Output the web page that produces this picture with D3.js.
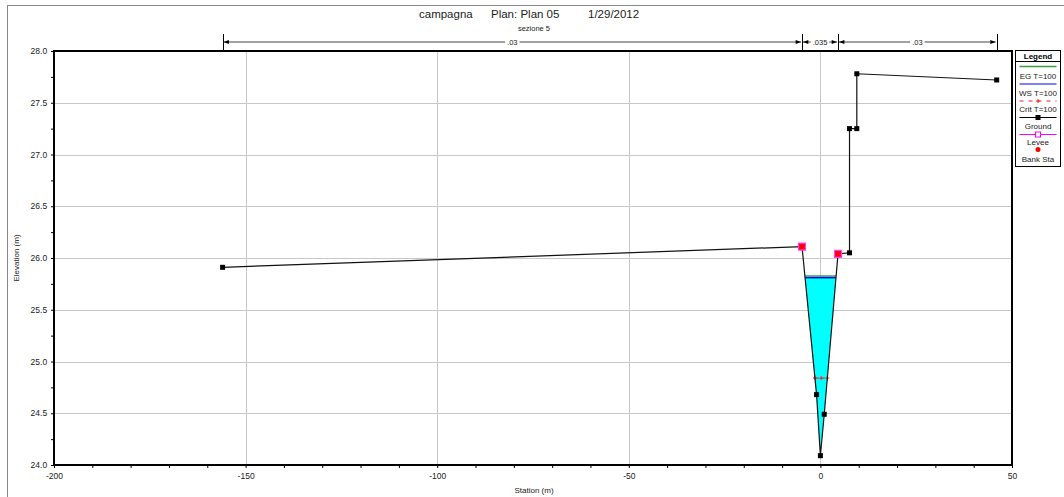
<!DOCTYPE html>
<html>
<head>
<meta charset="utf-8">
<script src="https://cdn.jsdelivr.net/npm/d3@7"></script>
<style>
  html, body { margin: 0; padding: 0; background: #fff; }
  svg { display: block; font-family: "Liberation Sans", Arial, sans-serif; }
</style>
</head>
<body>
<svg id="chart" width="1064" height="497"></svg>
<script>
// Cross section "sezione 5" — ground profile, water surfaces, bank stations
const groundStation = [-156, -4.8, -1.0, 0.0, 1.0, 4.6, 7.6, 7.6, 9.5, 9.5, 46];
const groundElev    = [25.91, 26.11, 24.68, 24.09, 24.49, 26.04, 26.05, 27.25, 27.25, 27.78, 27.72];
const bankStation   = [-4.8, 4.6];
const wsElev   = 25.81;   // WS T=100
const egElev   = 25.825;  // EG T=100
const critElev = 24.84;   // Crit T=100
const nBreaks  = [-156, -4.8, 4.6, 46];
const nValues  = [".03", ".035", ".03"];
const xTicksMajor = [-200, -150, -100, -50, 0, 50];
const yTicksMajor = [24.0, 24.5, 25.0, 25.5, 26.0, 26.5, 27.0, 27.5, 28.0];
const titleParts  = ["campagna", "Plan: Plan 05", "1/29/2012"];
const legendItems = ["EG T=100", "WS T=100", "Crit T=100", "Ground", "Levee", "Bank Sta"];

const svg = d3.select("#chart");
const x = d3.scaleLinear().domain([-200, 50]).range([54, 1012]);
const y = d3.scaleLinear().domain([24, 28]).range([465, 51]);
const ground = groundStation.map((s, i) => ({s, e: groundElev[i]}));

// outer frame
svg.append("rect").attr("x", 7.5).attr("y", 5.5).attr("width", 1070).attr("height", 500)
  .attr("fill", "none").attr("stroke", "#888").attr("stroke-width", 1);

// titles
const titleX = [419, 491, 588];
titleParts.forEach((t, i) => {
  svg.append("text").attr("x", titleX[i]).attr("y", 18)
    .attr("font-size", 11.5).attr("fill", "#222").text(t);
});
svg.append("text").attr("x", 534).attr("y", 31).attr("text-anchor", "middle")
  .attr("font-size", 7.5).attr("fill", "#222").text("sezione 5");

// grid
const grid = svg.append("g").attr("stroke", "#c8c8c8").attr("stroke-width", 1);
xTicksMajor.filter(v => v > -200 && v < 50).forEach(v => {
  grid.append("line").attr("x1", Math.round(x(v)) + 0.5).attr("x2", Math.round(x(v)) + 0.5)
    .attr("y1", y(28)).attr("y2", y(24));
});
yTicksMajor.filter(v => v > 24 && v < 28).forEach(v => {
  grid.append("line").attr("y1", Math.round(y(v)) + 0.5).attr("y2", Math.round(y(v)) + 0.5)
    .attr("x1", x(-200)).attr("x2", x(50));
});

// intersections of a horizontal level with the ground around the thalweg
function crossing(level) {
  const iMin = d3.minIndex(ground, d => d.e);
  let left = null, right = null;
  for (let i = iMin; i > 0; i--) {
    const a = ground[i], b = ground[i - 1];
    if (b.e >= level) { left = {i, s: a.s + (b.s - a.s) * (level - a.e) / (b.e - a.e)}; break; }
  }
  for (let i = iMin; i < ground.length - 1; i++) {
    const a = ground[i], b = ground[i + 1];
    if (b.e >= level) { right = {i, s: a.s + (b.s - a.s) * (level - a.e) / (b.e - a.e)}; break; }
  }
  return {left, right};
}

// water fill
const wc = crossing(wsElev);
const poly = [{s: wc.left.s, e: wsElev}];
for (let i = wc.left.i; i <= wc.right.i; i++) poly.push(ground[i]);
poly.push({s: wc.right.s, e: wsElev});
svg.append("path")
  .attr("d", d3.line().x(d => x(d.s)).y(d => y(d.e))(poly) + "Z")
  .attr("fill", "#00ffff").attr("stroke", "none");

// EG and WS lines
const ec = crossing(egElev);
svg.append("line").attr("x1", x(ec.left.s)).attr("x2", x(ec.right.s))
  .attr("y1", y(egElev)).attr("y2", y(egElev)).attr("stroke", "#3c9c3c").attr("stroke-width", 1.5);
svg.append("line").attr("x1", x(wc.left.s)).attr("x2", x(wc.right.s))
  .attr("y1", y(wsElev)).attr("y2", y(wsElev)).attr("stroke", "#0000ff").attr("stroke-width", 1.5);

// critical depth
const cc = crossing(critElev);
svg.append("line").attr("x1", x(cc.left.s)).attr("x2", x(cc.right.s))
  .attr("y1", y(critElev)).attr("y2", y(critElev))
  .attr("stroke", "#ff2020").attr("stroke-width", 1).attr("stroke-dasharray", "4,2");
[cc.left.s, (cc.left.s + cc.right.s) / 2, cc.right.s].forEach(s => {
  const px = x(s), py = y(critElev);
  svg.append("path").attr("d", `M${px - 2},${py}H${px + 2}M${px},${py - 2}V${py + 2}`)
    .attr("stroke", "#ff2020").attr("stroke-width", 1);
});

// ground
svg.append("path")
  .attr("d", d3.line().x(d => x(d.s)).y(d => y(d.e))(ground))
  .attr("fill", "none").attr("stroke", "#111").attr("stroke-width", 1.2);
svg.append("g").selectAll("rect").data(ground).join("rect")
  .attr("x", d => x(d.s) - 2.5).attr("y", d => y(d.e) - 2.5)
  .attr("width", 5).attr("height", 5).attr("fill", "#000");

// bank stations
const bankPts = bankStation.map(s => ground.find(g => g.s === s));
svg.append("g").selectAll("rect").data(bankPts).join("rect")
  .attr("x", d => x(d.s) - 3.5).attr("y", d => y(d.e) - 3.5)
  .attr("width", 7).attr("height", 7).attr("fill", "#ff0000")
  .attr("stroke", "#ff40ff").attr("stroke-width", 1.2);

// axes
const tickFont = "'Liberation Sans Narrow', 'Liberation Sans', Arial";
const xAxis = d3.axisBottom(x).tickValues(d3.range(-200, 51, 10)).tickSize(3)
  .tickFormat(d => xTicksMajor.includes(d) ? String(d) : "");
const gx = svg.append("g").attr("transform", `translate(0,${y(24)})`).call(xAxis);
gx.select(".domain").remove();
gx.selectAll("line").attr("stroke", "#000");
gx.selectAll("text").attr("font-size", 8.5).attr("fill", "#222").attr("dy", "0.9em")
  .attr("font-family", tickFont);

const yAxis = d3.axisLeft(y).tickValues(d3.range(24, 28.01, 0.25)).tickSize(3)
  .tickFormat(d => Math.abs(d * 2 - Math.round(d * 2)) < 1e-6 ? d.toFixed(1) : "");
const gy = svg.append("g").attr("transform", `translate(${x(-200)},0)`).call(yAxis);
gy.select(".domain").remove();
gy.selectAll("line").attr("stroke", "#000");
gy.selectAll("text").attr("font-size", 8.5).attr("fill", "#222").attr("dx", "-0.1em")
  .attr("font-family", tickFont);

// plot frame
svg.append("rect").attr("x", x(-200)).attr("y", y(28))
  .attr("width", x(50) - x(-200)).attr("height", y(24) - y(28))
  .attr("fill", "none").attr("stroke", "#000").attr("stroke-width", 2);

// axis titles
svg.append("text").attr("x", 534).attr("y", 493).attr("text-anchor", "middle")
  .attr("font-size", 8).attr("fill", "#222").text("Station (m)");
svg.append("text").attr("transform", `translate(19,${(y(24) + y(28)) / 2}) rotate(-90)`)
  .attr("text-anchor", "middle").attr("font-size", 8).attr("fill", "#222").text("Elevation (m)");

// Manning's n regions
const defs = svg.append("defs");
defs.append("marker").attr("id", "arr").attr("viewBox", "0 0 8 6").attr("refX", 8).attr("refY", 3)
  .attr("markerWidth", 6).attr("markerHeight", 4).attr("orient", "auto-start-reverse")
  .attr("markerUnits", "userSpaceOnUse")
  .append("path").attr("d", "M0,0L8,3L0,6Z").attr("fill", "#000");
const nY = 42;
const ng = svg.append("g");
nBreaks.forEach(s => {
  ng.append("line").attr("x1", Math.round(x(s)) + 0.5).attr("x2", Math.round(x(s)) + 0.5)
    .attr("y1", 34).attr("y2", y(28)).attr("stroke", "#000").attr("stroke-width", 1);
});
nValues.forEach((v, i) => {
  const x0 = x(nBreaks[i]) + 1, x1 = x(nBreaks[i + 1]) - 1;
  ng.append("line").attr("x1", x0).attr("x2", x1).attr("y1", nY).attr("y2", nY)
    .attr("stroke", "#444").attr("stroke-width", 1)
    .attr("marker-start", "url(#arr)").attr("marker-end", "url(#arr)");
  const bg = ng.append("rect").attr("fill", "#fff");
  const t = ng.append("text").attr("x", (x0 + x1) / 2).attr("y", nY + 3).attr("text-anchor", "middle")
    .attr("font-size", 7.5).attr("fill", "#222").text(v);
  const bb = t.node().getBBox();
  bg.attr("x", bb.x - 2).attr("y", bb.y).attr("width", bb.width + 4).attr("height", bb.height);
});

// legend
const lg = svg.append("g");
const lx = 1015.5, lw = 45;
lg.append("rect").attr("x", lx).attr("y", 50.5).attr("width", lw).attr("height", 116)
  .attr("fill", "#fff").attr("stroke", "#000").attr("stroke-width", 1);
lg.append("line").attr("x1", lx).attr("x2", lx + lw).attr("y1", 61.5).attr("y2", 61.5).attr("stroke", "#000");
lg.append("text").attr("x", lx + lw / 2).attr("y", 59).attr("text-anchor", "middle")
  .attr("font-size", 8).attr("font-weight", "bold").text("Legend");
const cx = lx + lw / 2, sx0 = lx + 4, sx1 = lx + lw - 4;
const symY = [66.5, 84, 101, 117.5, 134.5, 149.5];
const txtY = [78.5, 95.5, 112, 128.5, 145, 161.5];
lg.append("line").attr("x1", sx0).attr("x2", sx1).attr("y1", symY[0]).attr("y2", symY[0])
  .attr("stroke", "#3c9c3c").attr("stroke-width", 1.5);
lg.append("line").attr("x1", sx0).attr("x2", sx1).attr("y1", symY[1]).attr("y2", symY[1])
  .attr("stroke", "#0000ff").attr("stroke-width", 1.2);
lg.append("line").attr("x1", sx0).attr("x2", sx1).attr("y1", symY[2]).attr("y2", symY[2])
  .attr("stroke", "#ff2020").attr("stroke-width", 1).attr("stroke-dasharray", "4,5");
lg.append("path").attr("d", `M${cx - 2},${symY[2]}H${cx + 2}M${cx},${symY[2] - 2}V${symY[2] + 2}`)
  .attr("stroke", "#ff2020").attr("stroke-width", 1);
lg.append("line").attr("x1", sx0).attr("x2", sx1).attr("y1", symY[3]).attr("y2", symY[3])
  .attr("stroke", "#000").attr("stroke-width", 1);
lg.append("rect").attr("x", cx - 2.5).attr("y", symY[3] - 2.5).attr("width", 5).attr("height", 5).attr("fill", "#000");
lg.append("line").attr("x1", sx0).attr("x2", sx1).attr("y1", symY[4]).attr("y2", symY[4])
  .attr("stroke", "#ff00ff").attr("stroke-width", 1);
lg.append("rect").attr("x", cx - 2.5).attr("y", symY[4] - 2.5).attr("width", 5).attr("height", 5)
  .attr("fill", "#fff").attr("stroke", "#ff00ff").attr("stroke-width", 1);
lg.append("circle").attr("cx", cx).attr("cy", symY[5]).attr("r", 2.5).attr("fill", "#ff0000");
legendItems.forEach((t, i) => {
  lg.append("text").attr("x", cx).attr("y", txtY[i]).attr("text-anchor", "middle")
    .attr("font-size", 8).attr("fill", "#222").text(t);
});
</script>
</body>
</html>
